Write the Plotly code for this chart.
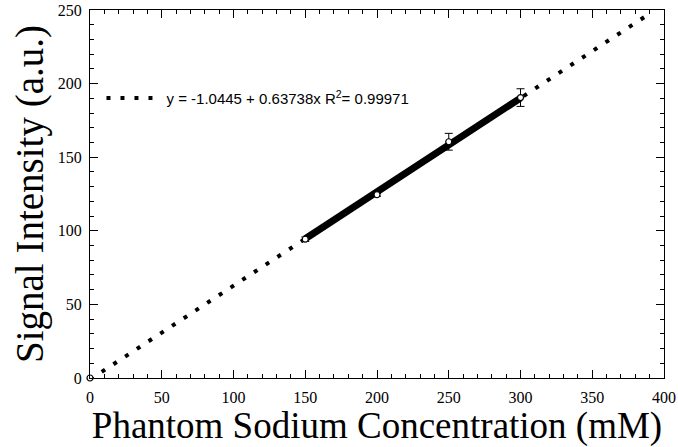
import plotly.graph_objects as go

# Data
conc = [0, 150, 200, 250, 300]
signal = [0, 94.3, 124.5, 160.5, 190.5]
err = [0, 1.5, 1.0, 5.7, 6.0]

intercept = -1.0445
slope = 0.63738
r2 = 0.99971

fit_x = [150, 300]
dot_x = [0, 390]

x_ticks = [0, 50, 100, 150, 200, 250, 300, 350, 400]
y_ticks = [0, 50, 100, 150, 200, 250]

label = "y = -1.0445 + 0.63738x R<sup>2</sup>= 0.99971"

fig = go.Figure()

fig.add_trace(go.Scatter(
    x=dot_x, y=[intercept + slope * v for v in dot_x],
    mode="lines", line=dict(color="black", width=4, dash="4px,10px"),
    name=label, showlegend=True, hoverinfo="skip"))

fig.add_trace(go.Scatter(
    x=fit_x, y=[intercept + slope * v for v in fit_x],
    mode="lines", line=dict(color="black", width=7),
    showlegend=False, hoverinfo="skip"))

fig.add_trace(go.Scatter(
    x=conc, y=signal, mode="markers",
    marker=dict(symbol="circle", size=6, color="white",
                line=dict(color="black", width=1.2)),
    error_y=dict(type="data", array=err, visible=True, color="black",
                 thickness=1, width=4),
    showlegend=False, cliponaxis=False))

axis_common = dict(
    showgrid=False, zeroline=False, showline=True, linecolor="black",
    linewidth=1, mirror="allticks", ticks="inside", ticklen=8,
    tickcolor="black", tickwidth=1, automargin=False,
    tickfont=dict(family="Liberation Serif", size=16, color="black"),
)

fig.update_xaxes(
    range=[0, 400], tickvals=x_ticks, ticktext=[str(v) for v in x_ticks],
    minor=dict(dtick=10, ticks="inside", ticklen=4, tickcolor="black"),
    ticklabelstandoff=5,
    title=dict(text="Phantom Sodium Concentration (mM)",
               font=dict(family="Liberation Serif", size=37, color="black"),
               standoff=0),
    **axis_common)

fig.update_yaxes(
    range=[0, 250], tickvals=y_ticks, ticktext=[str(v) for v in y_ticks],
    minor=dict(dtick=10, ticks="inside", ticklen=4, tickcolor="black"),
    ticklabelstandoff=4,
    title=dict(text="Signal Intensity (a.u.)",
               font=dict(family="Liberation Serif", size=39, color="black"),
               standoff=2),
    **axis_common)

fig.update_layout(
    width=678, height=447,
    margin=dict(l=90, r=14, t=10, b=69),
    paper_bgcolor="white", plot_bgcolor="white",
    legend=dict(x=0.02, y=0.76, xanchor="left", yanchor="middle",
                bgcolor="rgba(0,0,0,0)", itemwidth=55,
                font=dict(family="Liberation Sans", size=15, color="black")),
)

fig.write_html("out.html")
